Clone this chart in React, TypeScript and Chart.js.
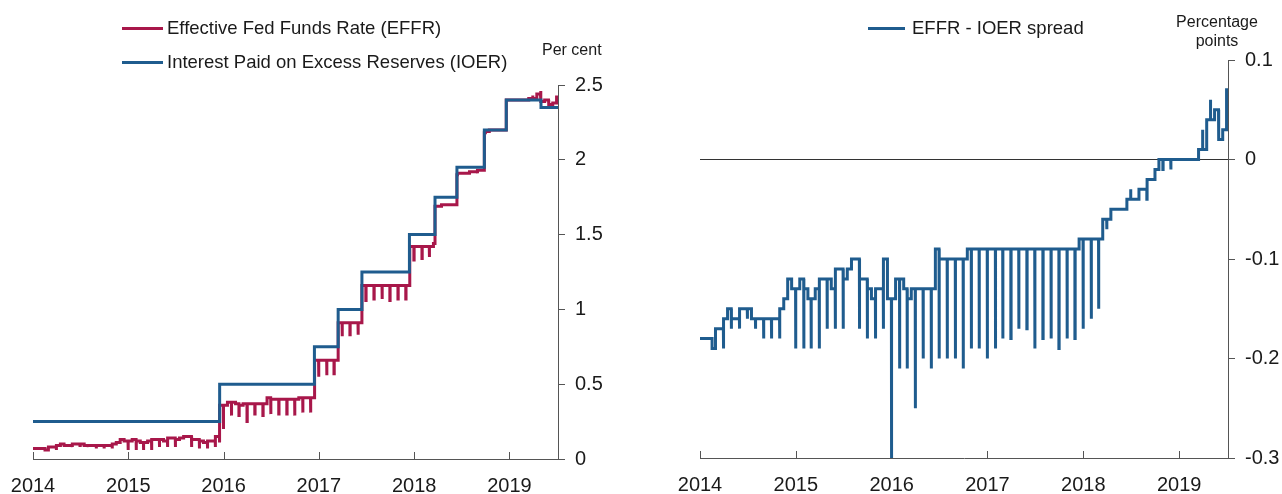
import React, { useEffect, useRef } from "react";
import { Chart, registerables } from "chart.js";

Chart.register(...registerables);

const FONT = '"Liberation Sans", Arial, Helvetica, sans-serif';
const TEXT = "#1a1a1a";
const AXIS = "#555555";
const ZERO = "#333333";
const RED = "#a8174a";
const BLUE = "#1f5c8e";

// x axis: calendar years
const X_TICK_YEARS = [2014, 2015, 2016, 2017, 2018, 2019];
const X_START = 2014;
const X_END = 2019.51;

// y axes
const LEFT_Y_TICKS = [0, 0.5, 1, 1.5, 2, 2.5];
const RIGHT_Y_TICKS = [-0.3, -0.2, -0.1, 0, 0.1];

// Interest paid on excess reserves (per cent), effective from the given dates
const IOER_CHANGE_DATES = [
  "2014-01-01", "2015-12-17", "2016-12-15", "2017-03-16", "2017-06-15", "2017-12-14",
  "2018-03-22", "2018-06-14", "2018-09-27", "2018-12-20", "2019-05-02",
];
const IOER_RATES = [0.25, 0.5, 0.75, 1.0, 1.25, 1.5, 1.75, 1.95, 2.2, 2.4, 2.35];

// EFFR - IOER spread (percentage points), monthly from Jan 2014 to Jul 2019
// level in the first half of the month
const SPREAD_FIRST_HALF = [
  -0.18, -0.18, -0.17, -0.16, -0.16, -0.15, -0.15, -0.16, -0.16, -0.16, -0.15, -0.12, // 2014
  -0.13, -0.13, -0.14, -0.12, -0.12, -0.11, -0.12, -0.10, -0.12, -0.13, -0.13, -0.10, // 2015
  -0.14, -0.12, -0.14, -0.13, -0.13, -0.13, -0.10, -0.10, -0.10, -0.10, -0.09, -0.09, // 2016
  -0.09, -0.09, -0.09, -0.09, -0.09, -0.09, -0.09, -0.09, -0.09, -0.09, -0.09, -0.09, // 2017
  -0.08, -0.08, -0.08, -0.06, -0.05, -0.05, -0.04, -0.03, -0.02, -0.01, 0.0, 0.0,     // 2018
  0.0, 0.0, 0.0, 0.01, 0.04, 0.02, 0.07,                                              // 2019
];
// level in the second half of the month
const SPREAD_SECOND_HALF = [
  -0.18, -0.19, -0.17, -0.15, -0.16, -0.15, -0.16, -0.16, -0.16, -0.16, -0.14, -0.13,
  -0.12, -0.14, -0.13, -0.12, -0.13, -0.11, -0.11, -0.10, -0.12, -0.14, -0.13, -0.14,
  -0.12, -0.13, -0.13, -0.13, -0.13, -0.09, -0.10, -0.10, -0.10, -0.09, -0.09, -0.09,
  -0.09, -0.09, -0.09, -0.09, -0.09, -0.09, -0.09, -0.09, -0.09, -0.09, -0.09, -0.08,
  -0.08, -0.08, -0.06, -0.05, -0.05, -0.04, -0.04, -0.03, -0.02, 0.0, 0.0, 0.0,
  0.0, 0.0, 0.01, 0.04, 0.05, 0.03, null,
];
// value on the last day of the month (month-end move), null = none
const SPREAD_MONTH_END = [
  null, null, -0.19, -0.17, -0.17, -0.16, -0.17, -0.18, -0.18, -0.18, null, -0.19,
  -0.19, -0.19, -0.19, -0.17, -0.17, -0.17, null, -0.17, -0.18, -0.18, -0.17, -0.3,
  -0.21, -0.21, -0.25, -0.2, -0.21, -0.2, -0.2, -0.2, -0.21, -0.19, -0.19, -0.2,
  -0.19, -0.18, -0.18, -0.17, -0.17, -0.19, -0.18, -0.18, -0.19, -0.18, -0.18, -0.17,
  -0.16, -0.15, -0.07, null, null, -0.03, null, -0.04, null, -0.01, -0.01, null,
  null, null, 0.03, 0.06, 0.02, 0.06, null,
];

type Change = [number, number];

function toYearFrac(t: number): number {
  const y = new Date(t).getUTCFullYear();
  const a = Date.UTC(y, 0, 1);
  const b = Date.UTC(y + 1, 0, 1);
  return y + (t - a) / (b - a);
}

function parseDate(s: string): number {
  const [y, m, d] = s.split("-").map(Number);
  return Date.UTC(y, m - 1, d);
}

function buildSpreadChanges(): Change[] {
  const out: Change[] = [];
  SPREAD_FIRST_HALF.forEach((v, i) => {
    const y = 2014 + Math.floor(i / 12);
    const m = i % 12;
    out.push([toYearFrac(Date.UTC(y, m, 1)), v]);
    const h2 = SPREAD_SECOND_HALF[i];
    if (h2 !== null && h2 !== undefined) out.push([toYearFrac(Date.UTC(y, m, 16)), h2]);
    const e = SPREAD_MONTH_END[i];
    if (e !== null && e !== undefined) out.push([toYearFrac(Date.UTC(y, m + 1, 0)), e]);
  });
  return out.filter((c) => c[0] <= X_END);
}

function buildIoerChanges(): Change[] {
  return IOER_CHANGE_DATES.map((d, i) => [toYearFrac(parseDate(d)), IOER_RATES[i]] as Change);
}

function valueAt(changes: Change[], x: number): number {
  let v = changes[0][1];
  for (const c of changes) {
    if (c[0] <= x + 1e-12) v = c[1];
    else break;
  }
  return v;
}

function buildEffrChanges(spread: Change[], ioer: Change[]): Change[] {
  const xs = Array.from(new Set([...spread.map((c) => c[0]), ...ioer.map((c) => c[0])])).sort((a, b) => a - b);
  return xs.map((x) => [x, Math.round((valueAt(ioer, x) + valueAt(spread, x)) * 100) / 100] as Change);
}

function stepPoints(changes: Change[]) {
  const pts: { x: number; y: number }[] = [];
  changes.forEach(([x, v], k) => {
    if (k > 0) pts.push({ x, y: changes[k - 1][1] });
    pts.push({ x, y: v });
  });
  pts.push({ x: X_END, y: changes[changes.length - 1][1] });
  return pts;
}

// x-axis tick marks pointing up into the plot area
const insideXTicks = {
  id: "insideXTicks",
  beforeDatasetsDraw(chart: any) {
    const s = chart.scales.x;
    const ctx = chart.ctx;
    ctx.save();
    ctx.strokeStyle = AXIS;
    ctx.lineWidth = 1;
    s.ticks.forEach((t: any) => {
      const px = Math.round(s.getPixelForValue(t.value)) + 0.5;
      ctx.beginPath();
      ctx.moveTo(px, s.top);
      ctx.lineTo(px, s.top - 7);
      ctx.stroke();
    });
    ctx.restore();
  },
};

function xScale(height: number) {
  return {
    type: "linear" as const,
    min: X_START,
    max: X_END,
    bounds: "data" as const,
    afterBuildTicks: (s: any) => {
      s.ticks = X_TICK_YEARS.map((v) => ({ value: v }));
    },
    afterFit: (s: any) => {
      s.height = height;
      s.paddingLeft = 0;
      s.paddingRight = 0;
    },
    grid: { display: true, drawOnChartArea: false, drawTicks: false },
    border: { display: true, color: AXIS, width: 1 },
    ticks: {
      padding: 15,
      color: TEXT,
      font: { size: 20, family: FONT },
      maxRotation: 0,
      autoSkip: false,
      callback: (v: any) => String(v),
    },
  };
}

function yScale(min: number, max: number, tickValues: number[], width: number, zeroLine: boolean) {
  return {
    type: "linear" as const,
    position: "right" as const,
    min,
    max,
    bounds: "data" as const,
    afterBuildTicks: (s: any) => {
      s.ticks = tickValues.map((v) => ({ value: v }));
    },
    afterFit: (s: any) => {
      s.width = width;
      s.paddingTop = 0;
      s.paddingBottom = 0;
    },
    grid: {
      display: true,
      drawOnChartArea: zeroLine,
      drawTicks: true,
      tickLength: 7,
      tickColor: AXIS,
      lineWidth: 1,
      color: (c: any) => (zeroLine && c.tick && Math.abs(c.tick.value) < 1e-9 ? ZERO : "rgba(0,0,0,0)"),
    },
    border: { display: true, color: AXIS, width: 1 },
    ticks: {
      padding: 10,
      color: TEXT,
      font: { size: 20, family: FONT },
      autoSkip: false,
      callback: (v: any) => String(Math.round(Number(v) * 10) / 10),
    },
  };
}

const baseOptions = {
  animation: false as const,
  responsive: false,
  maintainAspectRatio: false,
  events: [] as any[],
  plugins: { legend: { display: false }, tooltip: { enabled: false } },
  elements: { point: { radius: 0 }, line: { tension: 0 } },
};

export default function App() {
  const leftRef = useRef<HTMLCanvasElement>(null);
  const rightRef = useRef<HTMLCanvasElement>(null);

  useEffect(() => {
    const spread = buildSpreadChanges();
    const ioer = buildIoerChanges();
    const effr = buildEffrChanges(spread, ioer);

    const left = new Chart(leftRef.current!, {
      type: "line",
      data: {
        datasets: [
          { label: "Interest Paid on Excess Reserves (IOER)", data: stepPoints(ioer), borderColor: BLUE, borderWidth: 3, pointRadius: 0, fill: false },
          { label: "Effective Fed Funds Rate (EFFR)", data: stepPoints(effr), borderColor: RED, borderWidth: 3, pointRadius: 0, fill: false },
        ],
      },
      options: {
        ...baseOptions,
        layout: { padding: { left: 33, top: 85, right: 0, bottom: 0 } },
        scales: {
          x: xScale(35),
          y: yScale(0, 2.5, LEFT_Y_TICKS, 82, false),
        },
      } as any,
      plugins: [insideXTicks],
    });

    const right = new Chart(rightRef.current!, {
      type: "line",
      data: {
        datasets: [
          { label: "EFFR - IOER spread", data: stepPoints(spread), borderColor: BLUE, borderWidth: 3, pointRadius: 0, fill: false },
        ],
      },
      options: {
        ...baseOptions,
        layout: { padding: { left: 60, top: 60, right: 0, bottom: 0 } },
        scales: {
          x: xScale(36),
          y: yScale(-0.3, 0.1, RIGHT_Y_TICKS, 54, true),
        },
      } as any,
      plugins: [insideXTicks],
    });

    return () => {
      left.destroy();
      right.destroy();
    };
  }, []);

  const text = { position: "absolute" as const, fontFamily: FONT, color: TEXT, whiteSpace: "nowrap" as const };

  return (
    <div style={{ position: "absolute", left: 0, top: 0, width: 1282, height: 494, background: "#fff", overflow: "hidden" }}>
      <canvas ref={leftRef} width={640} height={494} style={{ position: "absolute", left: 0, top: 0 }} />
      <canvas ref={rightRef} width={642} height={494} style={{ position: "absolute", left: 640, top: 0 }} />

      <div style={{ position: "absolute", left: 122, top: 27, width: 41, height: 3, background: RED }} />
      <div style={{ ...text, left: 167, top: 17, fontSize: 18.5, lineHeight: "22px" }}>Effective Fed Funds Rate (EFFR)</div>
      <div style={{ position: "absolute", left: 122, top: 61, width: 41, height: 3, background: BLUE }} />
      <div style={{ ...text, left: 167, top: 51, fontSize: 18.5, lineHeight: "22px" }}>Interest Paid on Excess Reserves (IOER)</div>
      <div style={{ ...text, left: 542, top: 40, fontSize: 16, lineHeight: "20px" }}>Per cent</div>

      <div style={{ position: "absolute", left: 868, top: 27, width: 37, height: 3, background: BLUE }} />
      <div style={{ ...text, left: 912, top: 17, fontSize: 18.5, lineHeight: "22px" }}>EFFR - IOER spread</div>
      <div style={{ ...text, left: 1157, top: 12, width: 120, textAlign: "center", fontSize: 16, lineHeight: "19px" }}>
        Percentage
        <br />
        points
      </div>
    </div>
  );
}
